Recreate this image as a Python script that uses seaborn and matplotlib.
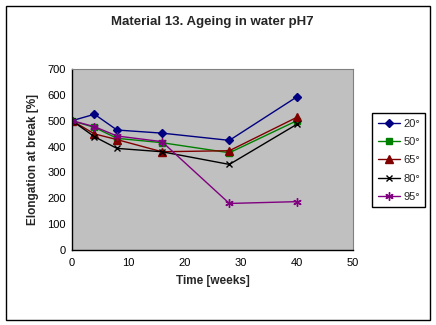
import matplotlib
matplotlib.use("Agg")
import matplotlib.pyplot as plt
from matplotlib.patches import Rectangle
import seaborn as sns
import pandas as pd

# Ageing data: elongation at break [%] vs time [weeks]
weeks = [0, 4, 8, 16, 28, 40]
temps = ["20°", "50°", "65°", "80°", "95°"]
elong_20 = [500, 525, 464, 452, 424, 592]
elong_50 = [500, 474, 432, 415, 376, 500]
elong_65 = [500, 449, 427, 380, 384, 513]
elong_80 = [500, 438, 393, 380, 331, 486]
elong_95 = [500, 477, 441, 419, 180, 187]

series = [elong_20, elong_50, elong_65, elong_80, elong_95]
df = pd.DataFrame({
    "Time": weeks * len(temps),
    "Elongation": sum(series, []),
    "Temp": sum([[t] * len(weeks) for t in temps], []),
})

colors = {"20°": "#000080", "50°": "#008000", "65°": "#800000",
          "80°": "#000000", "95°": "#800080"}
markers = {"20°": "D", "50°": "s", "65°": "^", "80°": "x", "95°": (6, 2, 0)}
sizes = {"20°": 4, "50°": 4.5, "65°": 5.5, "80°": 4.5, "95°": 6}

sns.set_style("white")
plt.rcParams["font.family"] = ["Liberation Sans", "DejaVu Sans"]

W, H = 436, 325
fig = plt.figure(figsize=(W / 100, H / 100), dpi=100)
fig.patches.append(Rectangle((5.5 / W, 5.5 / H), 424 / W, 314 / H,
                             transform=fig.transFigure, fill=False,
                             edgecolor="black", linewidth=1))

ax = fig.add_axes([72 / W, (H - 250) / H, 281 / W, 181 / H])
ax.set_facecolor("#C0C0C0")

for t in temps:
    sub = df[df["Temp"] == t]
    sns.lineplot(data=sub, x="Time", y="Elongation", ax=ax, color=colors[t],
                 marker=markers[t], markersize=sizes[t], linewidth=1,
                 markeredgecolor=colors[t], markeredgewidth=1, label=t,
                 legend=False)

ax.set_xlim(0, 50)
ax.set_ylim(0, 700)
ax.set_xticks(range(0, 51, 10))
ax.set_yticks(range(0, 701, 100))
ax.tick_params(direction="inout", length=5, width=1, labelsize=8,
               colors="black", pad=2)
ax.tick_params(axis="x", pad=3)
for side in ["top", "right"]:
    ax.spines[side].set_visible(True)
    ax.spines[side].set_color("#808080")
for side in ["left", "bottom"]:
    ax.spines[side].set_color("black")
    ax.spines[side].set_linewidth(1)

ax.set_xlabel("Time [weeks]", fontsize=8.5, fontweight="bold", labelpad=5)
ax.set_ylabel("Elongation at break [%]", fontsize=8.5, fontweight="bold",
              labelpad=6)

fig.text((72 + 353) / 2 / W, 1 - 22 / H, "Material 13. Ageing in water pH7",
         ha="center", va="center", fontsize=9.5, fontweight="bold")

handles, labels = ax.get_legend_handles_labels()
leg = fig.legend(handles, labels, loc="upper left",
                 bbox_to_anchor=(372 / W, 1 - 113 / H), fontsize=8,
                 frameon=True, fancybox=False, edgecolor="black",
                 framealpha=1, handlelength=2.0, handletextpad=0.3,
                 borderpad=0.5, borderaxespad=0, labelspacing=0.75)
leg.get_frame().set_linewidth(1)

fig.savefig("out.png", dpi=100)
